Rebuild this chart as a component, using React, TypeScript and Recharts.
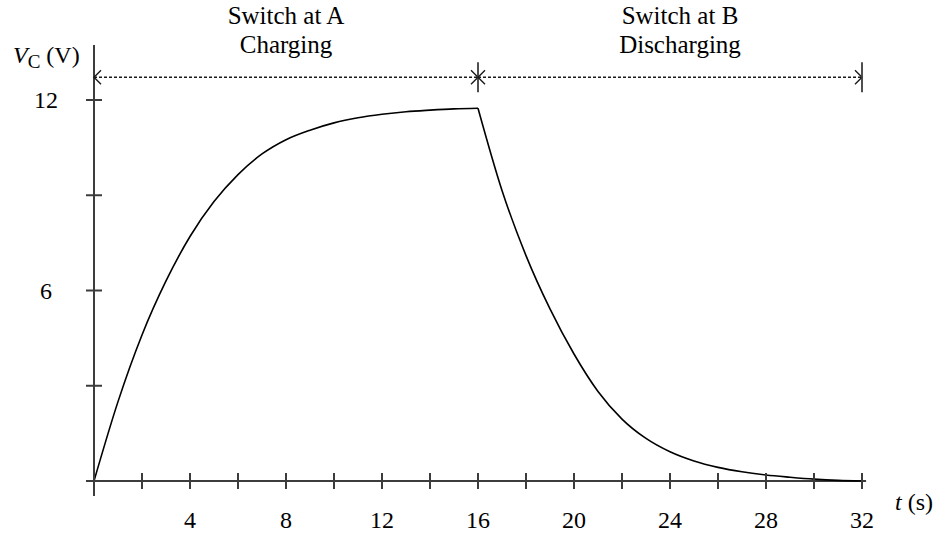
import { Line, LineChart, ReferenceLine, XAxis, YAxis } from "recharts";

// capacitor voltage, sampled once per second
const times = [
  0, 1, 2, 3, 4, 5, 6, 7, 8, 9, 10, 11, 12, 13, 14, 15, 16, 17, 18, 19, 20,
  21, 22, 23, 24, 25, 26, 27, 28, 29, 30, 31, 32,
];
const chargingVolts = [
  0, 2.5, 4.6, 6.3, 7.7, 8.8, 9.65, 10.3, 10.75, 11.05, 11.28, 11.44, 11.55,
  11.63, 11.68, 11.72, 11.74,
];
const dischargingVolts = [
  11.74, 9.15, 7.1, 5.42, 4.0, 2.82, 1.95, 1.34, 0.92, 0.63, 0.43, 0.29, 0.19,
  0.12, 0.06, 0.02, 0,
];
const switchTime = 16;

const timeTicks = [0, 2, 4, 6, 8, 10, 12, 14, 16, 18, 20, 22, 24, 26, 28, 30, 32];
const timeLabels = [4, 8, 12, 16, 20, 24, 28, 32];
const voltTicks = [0, 3, 6, 9, 12];
const voltLabels = [6, 12];

const rows = times.map((t, i) => ({
  t,
  charging: i <= switchTime ? chargingVolts[i] : null,
  discharging: i >= switchTime ? dischargingVolts[i - switchTime] : null,
}));

const FONT = "Liberation Serif, Times New Roman, serif";
const AXIS = "#3c3c3c";

const XTick = (props: any) => {
  const { x, y, payload } = props;
  return (
    <g>
      <line x1={x} y1={y - 8} x2={x} y2={y + 8} stroke={AXIS} strokeWidth={2} />
      {timeLabels.includes(payload.value) && (
        <text x={x} y={y + 47} textAnchor="middle" style={{ fontFamily: FONT }} fontSize={24} fill="#000">
          {payload.value}
        </text>
      )}
    </g>
  );
};

const YTick = (props: any) => {
  const { x, y, payload } = props;
  return (
    <g>
      <line x1={x - 8} y1={y} x2={x + 8} y2={y} stroke={AXIS} strokeWidth={2} />
      {voltLabels.includes(payload.value) && (
        <text x={x - 48} y={y + 8} textAnchor="middle" style={{ fontFamily: FONT }} fontSize={24} fill="#000">
          {payload.value}
        </text>
      )}
    </g>
  );
};

// dotted double-headed span with a two-line caption above it
const span = (title: string, sub: string, dx: number) => (props: any) => {
  const { x1, x2, y1: y } = props;
  const cx = (x1 + x2) / 2 + dx;
  return (
    <g>
      <line x1={x1} y1={y} x2={x2} y2={y} stroke="#1a1a1a" strokeWidth={1.5} strokeDasharray="3 2" />
      <polyline points={`${x1 + 7},${y - 7} ${x1},${y} ${x1 + 7},${y + 7}`} fill="none" stroke="#1a1a1a" strokeWidth={1.4} />
      <polyline points={`${x2 - 7},${y - 7} ${x2},${y} ${x2 - 7},${y + 7}`} fill="none" stroke="#1a1a1a" strokeWidth={1.4} />
      <line x1={x2} y1={y - 15} x2={x2} y2={y + 15} stroke={AXIS} strokeWidth={1.8} />
      <text x={cx} y={y - 53} textAnchor="middle" style={{ fontFamily: FONT }} fontSize={25} fill="#000">
        {title}
      </text>
      <text x={cx} y={y - 24} textAnchor="middle" style={{ fontFamily: FONT }} fontSize={25} fill="#000">
        {sub}
      </text>
    </g>
  );
};

const VoltLabel = (props: any) => {
  const { viewBox } = props;
  return (
    <text x={13} y={viewBox.y - 37} style={{ fontFamily: FONT }} fontSize={24} fill="#000">
      <tspan fontStyle="italic">V</tspan>
      <tspan fontSize={19} dy={5}>C</tspan>
      <tspan dy={-5}> (V)</tspan>
    </text>
  );
};

const TimeLabel = (props: any) => {
  const { viewBox } = props;
  return (
    <text x={viewBox.x + viewBox.width + 33} y={viewBox.y + 29} style={{ fontFamily: FONT }} fontSize={24} fill="#000">
      <tspan fontStyle="italic">t</tspan>
      <tspan> (s)</tspan>
    </text>
  );
};

export default function App() {
  const spanLevel = 12.72;
  return (
    <div style={{ position: "absolute", left: 0, top: 0, background: "#fff" }}>
      <LineChart
        width={945}
        height={536}
        data={rows}
        margin={{ top: 100, right: 83, bottom: 0, left: 0 }}
      >
        <XAxis
          dataKey="t"
          type="number"
          domain={[0, 32]}
          ticks={timeTicks}
          interval={0}
          height={55}
          axisLine={false}
          tickLine={false}
          tickSize={0}
          tickMargin={0}
          tick={<XTick />}
          label={<TimeLabel />}
        />
        <YAxis
          type="number"
          domain={[0, 12]}
          ticks={voltTicks}
          interval={0}
          width={94}
          axisLine={false}
          tickLine={false}
          tickSize={0}
          tickMargin={0}
          tick={<YTick />}
          label={<VoltLabel />}
        />
        <ReferenceLine
          segment={[{ x: 0, y: -0.47 }, { x: 0, y: 13.73 }]}
          ifOverflow="visible"
          stroke={AXIS}
          strokeWidth={2}
        />
        <ReferenceLine
          segment={[{ x: -0.33, y: 0 }, { x: 32.17, y: 0 }]}
          ifOverflow="visible"
          stroke={AXIS}
          strokeWidth={2}
        />
        <ReferenceLine
          segment={[{ x: 0, y: spanLevel }, { x: switchTime, y: spanLevel }]}
          ifOverflow="visible"
          shape={span("Switch at A", "Charging", 0)}
        />
        <ReferenceLine
          segment={[{ x: switchTime, y: spanLevel }, { x: 32, y: spanLevel }]}
          ifOverflow="visible"
          shape={span("Switch at B", "Discharging", 10)}
        />
        <Line
          dataKey="charging"
          type="monotone"
          stroke="#000"
          strokeWidth={1.6}
          dot={false}
          connectNulls={false}
          isAnimationActive={false}
        />
        <Line
          dataKey="discharging"
          type="monotone"
          stroke="#000"
          strokeWidth={1.6}
          dot={false}
          connectNulls={false}
          isAnimationActive={false}
        />
      </LineChart>
    </div>
  );
}
